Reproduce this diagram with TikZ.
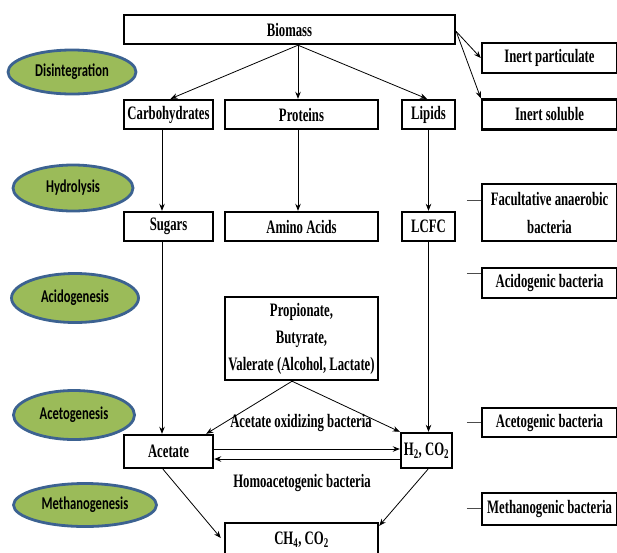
\documentclass[tikz,border=0pt]{standalone}
\usepackage{fontspec}
\setmainfont{Liberation Serif}[FakeStretch=0.67]
\newfontfamily\phasefont{Carlito}[FakeStretch=0.7]
\usetikzlibrary{shapes.geometric,arrows.meta}
\definecolor{phasefill}{RGB}{155,187,89}
\definecolor{phaseline}{RGB}{60,98,145}
\tikzset{>={Stealth[length=7pt,width=5.5pt]}}
\tikzset{
  box/.style={draw, line width=2.4pt, inner sep=0pt, align=center,
    font=\fontsize{19}{27}\selectfont\bfseries},
  label/.style={inner sep=0pt, font=\fontsize{19}{27}\selectfont\bfseries},
  phase/.style={ellipse, draw=phaseline, line width=2.8pt, fill=phasefill,
    inner sep=0pt, font=\phasefont\fontsize{18}{20}\selectfont\bfseries},
  flow/.style={->, line width=0.8pt},
  tick/.style={line width=0.8pt, black!70}
}

\begin{document}
\begin{tikzpicture}[x=1pt,y=-1pt]
\useasboundingbox[fill=white] (0,0) rectangle (617,552);

% phases
\node[phase, minimum width=128pt, minimum height=44pt] (dis) at (72,72) {Disintegration};
\node[phase, minimum width=120pt, minimum height=46pt] (hyd) at (73,188) {Hydrolysis};
\node[phase, minimum width=127pt, minimum height=49pt] (acid) at (75,298) {Acidogenesis};
\node[phase, minimum width=121pt, minimum height=49pt] (acet) at (74,415) {Acetogenesis};
\node[phase, minimum width=143pt, minimum height=43pt] (meth) at (85,505) {Methanogenesis};

% substrates and products
\node[box, minimum width=331pt, minimum height=29pt] (biomass) at (289.5,29.5) {Biomass};
\node[box, minimum width=89pt, minimum height=29pt] (carb) at (168.5,114.5) {Carbohydrates};
\node[box, minimum width=153pt, minimum height=29pt] (prot) at (301.5,114.5) {Proteins};
\node[box, minimum width=53pt, minimum height=29pt] (lip) at (428.5,114.5) {Lipids};
\node[box, minimum width=89pt, minimum height=29pt] (sug) at (168.5,226.5) {Sugars};
\node[box, minimum width=153pt, minimum height=29pt] (amino) at (301.5,226.5) {Amino Acids};
\node[box, minimum width=53pt, minimum height=29pt] (lcfc) at (428.5,226.5) {LCFC};
\node[box, minimum width=153pt, minimum height=83pt] (vfa) at (301.5,338.5)
  {Propionate,\\Butyrate,\\Valerate (Alcohol, Lactate)};
\node[box, minimum width=89pt, minimum height=33pt] (ace) at (168.5,451.5) {Acetate};
\node[box, minimum width=51pt, minimum height=35pt] (h2) at (426.5,450.5) {H\textsubscript{2}, CO\textsubscript{2}};
\node[box, minimum width=153pt, minimum height=34pt] (ch4) at (301.5,540) {CH\textsubscript{4}, CO\textsubscript{2}};

% side boxes
\node[box, minimum width=135pt, minimum height=30pt] (inp) at (549.5,58) {Inert particulate};
\node[box, minimum width=135pt, minimum height=30pt] (ins) at (549.5,114.5) {Inert soluble};
\node[box, minimum width=135pt, minimum height=57pt] (fac) at (549.5,212.5)
  {Facultative anaerobic\\[1pt]bacteria};
\node[box, minimum width=135pt, minimum height=30pt] (acb) at (549.5,283) {Acidogenic bacteria};
\node[box, minimum width=135pt, minimum height=29pt] (atb) at (549.5,422.5) {Acetogenic bacteria};
\node[box, minimum width=135pt, minimum height=32pt] (mtb) at (549.5,509) {Methanogenic bacteria};

% bacteria on the middle arrows
\node[label] (aob) at (301,423) {Acetate oxidizing bacteria};
\node[label] (hab) at (302,483) {Homoacetogenic bacteria};

% arrows
\coordinate (bm) at ([xshift=8.5pt]biomass.south);
\draw[flow] (bm) -- ([xshift=2pt]carb.north);
\draw[flow] (bm) -- (bm |- prot.north);
\draw[flow] (bm) -- ([xshift=-1.5pt]lip.north);
\draw[flow] ([yshift=-2pt]biomass.east) -- (inp.west);
\draw[flow] ([yshift=-2pt]biomass.east) -- (ins.north west);
\draw[flow] ([xshift=-6.5pt]carb.south) -- ([xshift=-6.5pt]sug.north);
\draw[flow] ([xshift=-3.5pt]prot.south) -- ([xshift=-3.5pt]amino.north);
\draw[flow] (lip.south) -- (lcfc.north);
\draw[flow] ([xshift=-6.5pt]sug.south) -- ([xshift=-6.5pt]ace.north);
\draw[flow] (lcfc.south) -- (lcfc.south |- h2.north);
\coordinate (vb) at ([xshift=-9.5pt]vfa.south);
\draw[flow] (vb) -- ([xshift=-8pt]ace.north east);
\draw[flow] (vb) -- (h2.north west);
\draw[flow] ([yshift=2.5pt]ace.east) -- ([yshift=2.5pt]ace.east -| h2.west);
\draw[flow] ([yshift=-8.5pt]h2.west -| h2.west) -- ([yshift=-8.5pt]h2.west -| ace.east);
\draw[flow] ([xshift=-5.5pt]ace.south) -- ([xshift=-3pt,yshift=2pt]ch4.west);
\draw[flow] ([xshift=1.5pt]h2.south) -- ([yshift=-4pt]ch4.north east);

% ticks to the bacteria boxes
\foreach \b/\s in {fac/12.5, acb/10, atb/0, mtb/1}
  \draw[tick] ([xshift=-14pt,yshift=\s pt]\b.west) -- ([yshift=\s pt]\b.west);
\end{tikzpicture}
\end{document}
